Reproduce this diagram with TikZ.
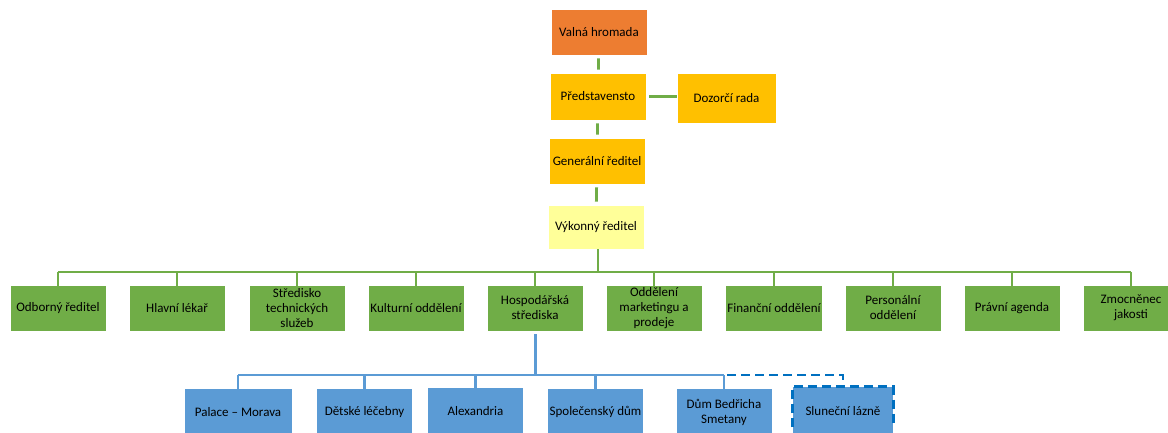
\documentclass[tikz,border=0pt]{standalone}
\usepackage{fontspec}
\setmainfont{Carlito}
\definecolor{orangebox}{HTML}{ED7D31}
\definecolor{goldbox}{HTML}{FFC000}
\definecolor{paleyellow}{HTML}{FFFF99}
\definecolor{greenbox}{HTML}{70AD47}
\definecolor{bluebox}{HTML}{5B9BD5}
\definecolor{darkblue}{HTML}{0070C0}
\tikzset{
  box/.style={rectangle, draw=white, line width=0.6pt, align=center, inner sep=2pt,
    font=\fontsize{13}{15}\selectfont, text=black},
  topbox/.style={box, minimum width=96pt, minimum height=46pt},
  greenunit/.style={box, fill=greenbox, minimum width=96pt, minimum height=46pt},
  blueunit/.style={box, fill=bluebox, minimum width=96pt, minimum height=48pt},
  gline/.style={draw=greenbox, line width=2.8pt},
  bline/.style={draw=bluebox, line width=2.6pt},
  dline/.style={draw=darkblue, line width=2.6pt, dash pattern=on 9pt off 5pt},
}
\begin{document}
\begin{tikzpicture}[x=1pt,y=-1pt]
\useasboundingbox (0,0) rectangle (1168,432);
\clip (0,0) rectangle (1168,432);
% top chain
\node[topbox, fill=orangebox] (valna) at (599,32) {Valná hromada};
\node[topbox, fill=goldbox, minimum height=47pt] (pred) at (598,96.5) {Představensto};
\node[topbox, fill=goldbox, minimum width=99pt, minimum height=50pt] (dozor) at (726.5,98) {Dozorčí rada};
\node[topbox, fill=goldbox] (gen) at (597,161) {Generální ředitel};
\node[topbox, fill=paleyellow, minimum height=44pt] (vyk) at (596,227) {Výkonný ředitel};
% green units
\node[greenunit] (g1) at (58,308) {Odborný ředitel};
\node[greenunit] (g2) at (177,308) {Hlavní lékař};
\node[greenunit] (g3) at (297,308) {Středisko\\technických\\služeb};
\node[greenunit] (g4) at (416,308) {Kulturní oddělení};
\node[greenunit] (g5) at (535,308) {Hospodářská\\střediska};
\node[greenunit] (g6) at (654,308) {Oddělení\\marketingu a\\prodeje};
\node[greenunit] (g7) at (774,308) {Finanční oddělení};
\node[greenunit] (g8) at (893,308) {Personální\\oddělení};
\node[greenunit] (g9) at (1012,308) {Právní agenda};
\node[greenunit] (g10) at (1131,308) {Zmocněnec\\jakosti};
% blue units
\node[blueunit, minimum width=108pt] (b1) at (238,412) {Palace -- Morava};
\node[blueunit] (b2) at (364.5,412) {Dětské léčebny};
\node[blueunit] (b3) at (475.5,411.5) {Alexandria};
\node[blueunit] (b4) at (595.5,412) {Společenský dům};
\node[blueunit] (b5) at (724,412) {Dům Bedřicha\\Smetany};
\node[blueunit, draw=none, minimum width=100pt] (b6) at (843,411) {Sluneční lázně};
\draw[dline] ([yshift=8pt]b6.south west) -- (b6.north west) -- (b6.north east) -- ([yshift=8pt]b6.south east);
% top connectors
\draw[gline, shorten >=3pt, shorten <=3pt] (valna) -- (pred);
\draw[gline, shorten >=3pt, shorten <=3pt] (pred) -- (gen);
\draw[gline, shorten >=3pt, shorten <=3pt] (gen) -- (vyk);
\draw[gline, shorten <=3pt] (pred.east) -- (pred.east -| dozor.west);
% green bus
\coordinate (gbus) at (598,272);
\draw[gline] (vyk.south -| gbus) -- (gbus);
\draw[gline] (g1.north |- gbus) -- (g10.north |- gbus);
\foreach \i in {1,...,10}{
  \draw[gline] (g\i.north |- gbus) -- ([yshift=-2pt]g\i.north);
}
% blue bus
\coordinate (bbus) at (535,375);
\draw[bline, line width=3pt] ([yshift=-3pt]g5.south) -- (bbus);
\draw[bline] (b1.north |- bbus) -- (b5.north |- bbus);
\foreach \i in {1,...,5}{
  \draw[bline] (b\i.north |- bbus) -- ([yshift=-2pt]b\i.north);
}
\draw[dline] ([xshift=3pt]b5.north |- bbus) -- (b6.north |- bbus) -- (b6.north);
\end{tikzpicture}
\end{document}
